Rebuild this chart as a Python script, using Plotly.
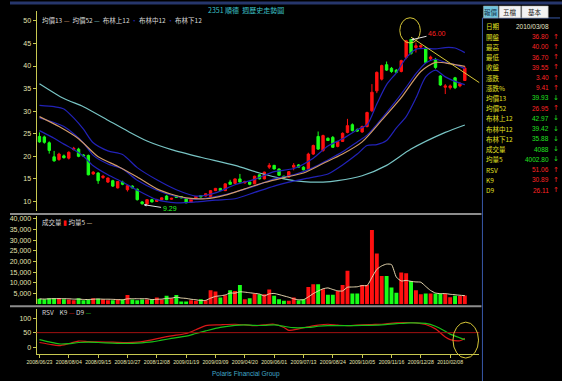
import plotly.graph_objects as go
import pandas as pd

# ---------------- data ----------------
TICK_BARS = [0, 6, 12, 18, 24, 30, 36, 42, 48, 54, 60, 66, 72, 78, 84]
TICK_LABELS = ["2008/06/23", "2008/08/04", "2008/09/15", "2008/10/27", "2008/12/08",
               "2009/01/19", "2009/03/09", "2009/04/20", "2009/06/01", "2009/07/13",
               "2009/08/24", "2009/10/05", "2009/11/16", "2009/12/28", "2010/02/08"]

OPEN = [24.4, 24.3, 23.0, 19.9, 19.3, 20.1, 19.6, 21.5, 21.6, 20.3,
        20.2, 16.1, 16.3, 15.3, 14.3, 14.6, 13.0, 14.3, 12.6, 13.4,
        12.7, 9.9, 9.4, 10.4, 10.0, 10.4, 11.2, 10.5, 11.2, 11.1,
        10.6, 9.8, 10.8, 11.3, 11.2, 11.1, 12.4, 12.9, 12.4, 14.3,
        14.0, 15.0, 14.1, 14.3, 13.9, 15.9, 15.0, 17.6, 18.0, 17.2,
        15.6, 15.4, 17.6, 18.1, 17.6, 17.2, 20.5, 24.4, 21.3, 24.0,
        24.2, 22.2, 23.3, 25.3, 27.0, 25.9, 25.4, 26.6, 30.1, 34.5,
        37.1, 40.3, 39.5, 39.1, 38.8, 41.9, 45.9, 44.1, 44.2, 44.0,
        41.6, 41.5, 37.8, 35.3, 35.2, 37.4, 35.6, 36.8]
HIGH = [25.3, 24.6, 23.3, 21.2, 20.8, 20.4, 21.1, 22.1, 21.9, 20.5,
        20.4, 16.7, 16.5, 15.9, 15.3, 14.8, 14.5, 14.6, 13.7, 13.6,
        12.9, 10.1, 10.5, 10.6, 10.6, 10.9, 11.4, 10.8, 11.3, 11.2,
        10.7, 10.6, 11.2, 11.4, 11.8, 12.5, 13.0, 13.0, 14.0, 14.8,
        15.1, 16.1, 14.6, 14.4, 15.7, 16.0, 16.6, 18.5, 18.1, 17.3,
        15.7, 16.7, 18.5, 18.3, 17.8, 20.8, 22.6, 25.5, 24.8, 24.2,
        24.5, 23.4, 25.3, 28.3, 27.3, 26.2, 26.8, 29.9, 36.0, 38.8,
        40.3, 41.0, 39.8, 39.3, 41.4, 45.8, 46.0, 45.2, 44.8, 44.3,
        42.3, 41.8, 38.0, 36.0, 35.9, 37.6, 36.4, 40.0]
LOW = [23.0, 22.8, 20.6, 18.8, 19.0, 19.5, 19.3, 21.3, 19.8, 19.9,
       15.8, 15.9, 13.9, 15.0, 14.1, 13.2, 12.9, 13.6, 12.2, 12.9,
       10.2, 9.29, 9.3, 9.8, 9.9, 10.3, 10.3, 10.4, 10.8, 10.7,
       9.6, 9.7, 10.7, 10.9, 11.1, 11.0, 12.3, 12.3, 12.3, 13.7,
       13.9, 14.2, 14.0, 13.6, 13.8, 14.9, 14.9, 17.2, 17.1, 15.7,
       15.0, 15.3, 16.9, 17.5, 16.9, 17.0, 20.3, 21.4, 21.0, 23.4,
       21.9, 22.0, 23.2, 25.1, 25.5, 25.4, 25.2, 26.4, 29.8, 34.0,
       36.8, 38.9, 38.5, 38.4, 38.6, 41.5, 42.5, 43.0, 43.8, 40.6,
       41.2, 39.4, 35.6, 33.8, 34.8, 34.9, 35.3, 36.7]
CLOSE = [23.2, 23.1, 21.3, 19.0, 20.5, 19.7, 20.9, 21.8, 20.0, 20.1,
         15.9, 16.5, 14.6, 15.6, 15.2, 13.4, 14.4, 13.8, 13.5, 13.0,
         10.4, 9.5, 10.4, 9.9, 10.4, 10.8, 10.4, 10.7, 10.9, 10.8,
         9.7, 10.5, 11.1, 11.0, 11.7, 12.4, 12.9, 12.4, 13.9, 13.8,
         15.0, 14.3, 14.4, 13.8, 15.6, 15.0, 16.5, 18.0, 17.2, 15.8,
         15.2, 16.6, 18.0, 17.6, 17.0, 20.5, 22.4, 21.6, 24.6, 23.5,
         22.0, 23.3, 25.1, 26.8, 25.7, 25.6, 26.6, 29.7, 34.2, 38.6,
         40.1, 39.1, 38.8, 38.6, 41.2, 45.6, 42.8, 44.5, 44.5, 40.8,
         42.0, 39.7, 35.8, 35.6, 35.6, 35.2, 36.15, 39.55]
VOLUME = [2500, 2300, 2800, 2800, 2700, 2300, 2200, 1900, 2800, 1900,
          2200, 2800, 2600, 2200, 1900, 1900, 2200, 2200, 4300, 2200,
          1900, 2200, 2200, 2200, 3100, 2200, 3900, 2800, 4300, 1300,
          1300, 1900, 1600, 2300, 1900, 6500, 5900, 3100, 4200, 6500,
          6200, 9000, 2300, 2800, 5000, 4700, 4700, 6900, 3900, 2300,
          1600, 1600, 3100, 1900, 2300, 8100, 9300, 9300, 7000, 4400,
          4400, 6200, 9000, 15600, 5000, 5000, 9000, 9000, 34700, 23700,
          13200, 13200, 7800, 5400, 14800, 14500, 10900, 6500, 4700, 5000,
          5000, 5000, 5000, 4900, 3300, 3900, 3826, 4088]

MA13_X = [0, 4, 8, 12, 16, 20, 24, 27, 30, 34, 38, 42, 46, 50, 54, 58, 62, 66, 70, 74, 78, 81, 84, 87]
MA13_V = [28.8, 26.6, 23.9, 19.9, 17.8, 15.4, 12.8, 11.6, 10.8, 10.6, 11.4, 12.8,
          14.2, 15.3, 16.3, 18.4, 20.5, 23.2, 28.0, 33.0, 38.8, 40.8, 40.5, 39.93]
MA52_X = [0, 5, 9, 14, 18, 22, 27, 33, 40, 45, 50, 54, 58, 61, 66, 71, 76, 83, 87]
MA52_V = [36.1, 32.8, 31.0, 28.0, 25.6, 23.4, 21.5, 19.8, 18.0, 16.3, 15.0, 14.4,
          14.3, 14.6, 15.7, 18.0, 21.6, 25.3, 26.95]
BB_X = [0, 3, 5, 7, 9, 11, 14, 17, 20, 24, 28, 32, 36, 40, 44, 48, 52, 56, 59, 62,
        65, 67, 69, 71, 73, 75, 77, 79, 81, 83, 85, 87]
BBU_V = [31.3, 31.0, 30.5, 28.5, 26.0, 23.0, 21.2, 20.4, 17.5, 14.8, 12.6, 11.2,
         11.9, 13.7, 14.9, 16.6, 17.3, 19.6, 22.3, 23.9, 25.9, 27.0, 31.6, 35.9,
         38.5, 41.8, 43.7, 43.9, 43.8, 44.1, 44.0, 42.97]
BBM_V = [28.5, 27.5, 26.6, 25.0, 23.0, 20.2, 18.3, 17.2, 14.7, 12.5, 11.1, 10.5,
         11.1, 12.1, 13.4, 15.0, 15.9, 17.5, 19.2, 21.0, 23.2, 24.7, 27.1, 29.7,
         32.4, 35.3, 38.3, 40.7, 41.5, 40.8, 40.3, 39.42]
BBL_V = [25.7, 24.0, 22.7, 21.5, 20.0, 17.9, 15.9, 14.3, 12.5, 10.4, 9.7, 9.9,
         10.3, 10.6, 12.0, 13.4, 14.5, 15.4, 16.1, 18.1, 20.5, 22.4, 22.6, 23.5,
         26.3, 28.8, 32.9, 37.6, 39.1, 37.6, 36.6, 35.88]

K_X = [0, 2, 4, 6, 8, 10, 12, 15, 18, 20, 23, 25, 27, 30, 32, 34, 37, 40, 42, 44,
       46, 48, 50, 51, 53, 55, 57, 59, 61, 63, 66, 68, 70, 73, 77, 79, 81, 83, 84, 86, 87]
K_V = [16, 10, 5, 12, 21, 19, 18, 17, 16, 17, 25, 33, 39, 47, 60, 74, 77, 79, 77, 74,
       77, 79, 68, 58, 63, 70, 76, 79, 76, 74, 77, 78, 79, 84, 84, 78, 63, 35, 26, 22, 30.89]
D_X = [0, 2, 4, 6, 8, 10, 12, 15, 18, 20, 23, 25, 27, 30, 32, 34, 37, 40, 42, 44,
       46, 48, 50, 52, 55, 57, 59, 62, 66, 70, 73, 76, 79, 81, 83, 84, 86, 87]
D_V = [26, 18, 11, 12, 16, 17, 16, 14, 13, 14, 18, 24, 30, 38, 47, 56, 68, 75, 77, 75,
       75, 77, 72, 67, 68, 72, 74, 74, 75, 77, 81, 84, 82, 72, 55, 45, 32, 26.11]

TABLE_LABELS = ["日期", "開盤", "最高", "最低", "收盤", "漲跌", "漲跌%", "均價13", "均價52",
                "布林上12", "布林中12", "布林下12", "成交量", "均量5", "RSV", "K9", "D9"]
TABLE_VALUES = ["2010/03/08", "36.80", "40.00", "36.70", "39.55", "3.40", "9.41", "39.93",
                "26.95", "42.97", "39.42", "35.88", "4088", "4002.80", "51.06", "30.89", "26.11"]
TABLE_DIRS = ["", "up", "up", "up", "up", "up", "up", "down", "up",
              "down", "down", "down", "down", "down", "up", "up", "up"]
TABS = ["報價", "五檔", "基本"]

# ---------------- styling ----------------
W, H = 562, 381
RED = "#ff1010"
GREEN = "#18ff18"
AXIS_COL = "#c8c850"
NARROW = "Liberation Sans Narrow, Liberation Sans, Arial"
TICK_FONT = dict(family=NARROW, size=7, color="#e4e4b0")
CJK = "Noto Sans CJK TC"


def px(x):
    return x / W


def py(y):
    return 1 - y / H


n = len(CLOSE)
X = list(range(n))
XR = [-0.6, 90.0]
XDOM = [px(27), px(478)]

fig = go.Figure()

fig.add_trace(go.Candlestick(
    x=X, open=OPEN, high=HIGH, low=LOW, close=CLOSE,
    increasing=dict(line=dict(color=RED, width=1), fillcolor=RED),
    decreasing=dict(line=dict(color=GREEN, width=1), fillcolor=GREEN),
    whiskerwidth=0, xaxis="x", yaxis="y", showlegend=False, hoverinfo="skip"))

line_specs = [
    (MA52_X, MA52_V, "#78c4c4"),
    (BB_X, BBU_V, "#2222b8"),
    (BB_X, BBM_V, "#2222b8"),
    (BB_X, BBL_V, "#2222b8"),
    (MA13_X, MA13_V, "#d09a68"),
]
for xs, ys, col in line_specs:
    fig.add_trace(go.Scatter(x=xs, y=ys, mode="lines", xaxis="x", yaxis="y",
                             line=dict(color=col, width=1.2, shape="spline", smoothing=0.7),
                             showlegend=False, hoverinfo="skip"))

vol_colors = [RED if c >= o else GREEN for o, c in zip(OPEN, CLOSE)]
fig.add_trace(go.Bar(x=X, y=VOLUME, marker=dict(color=vol_colors, line=dict(width=0)),
                     xaxis="x2", yaxis="y2", showlegend=False, hoverinfo="skip"))
vol_ma = pd.Series(VOLUME).rolling(5, min_periods=1).mean()
fig.add_trace(go.Scatter(x=X, y=vol_ma, mode="lines", xaxis="x2", yaxis="y2",
                         line=dict(color="#e8d8b0", width=1, shape="spline", smoothing=0.6),
                         showlegend=False, hoverinfo="skip"))

fig.add_trace(go.Scatter(x=K_X, y=K_V, mode="lines", xaxis="x3", yaxis="y3",
                         line=dict(color="#d81818", width=1.2, shape="spline", smoothing=0.8),
                         showlegend=False, hoverinfo="skip"))
fig.add_trace(go.Scatter(x=D_X, y=D_V, mode="lines", xaxis="x3", yaxis="y3",
                         line=dict(color="#18c018", width=1.2, shape="spline", smoothing=0.8),
                         showlegend=False, hoverinfo="skip"))

common_x = dict(domain=XDOM, range=XR, showgrid=False, zeroline=False, fixedrange=True)
common_y = dict(showgrid=False, zeroline=False, showline=True, linecolor=AXIS_COL, linewidth=1,
                ticks="outside", ticklen=3, tickcolor=AXIS_COL, tickfont=TICK_FONT, side="left")

fig.update_layout(
    width=W, height=H,
    margin=dict(l=0, r=0, t=0, b=0),
    paper_bgcolor="black", plot_bgcolor="black",
    bargap=0.2,
    xaxis=dict(**common_x, anchor="y", showticklabels=False, rangeslider=dict(visible=False)),
    xaxis2=dict(**common_x, anchor="y2", showticklabels=False, matches="x"),
    xaxis3=dict(**common_x, anchor="y3", matches="x", tickvals=TICK_BARS, ticktext=TICK_LABELS,
                tickangle=0, ticks="outside", ticklen=3, tickcolor=AXIS_COL, showline=True,
                linecolor=AXIS_COL, tickfont=dict(family=NARROW, size=5.2, color="#e4e4b0")),
    yaxis=dict(**common_y, domain=[py(211), py(10)], range=[7.79, 52.2], anchor="x",
               tickvals=[10, 15, 20, 25, 30, 35, 40, 45, 50]),
    yaxis2=dict(**common_y, domain=[py(304), py(216)], range=[0, 41060], anchor="x2",
                tickvals=[5000, 10000, 15000, 20000, 25000, 30000, 35000, 40000], tickformat=",d"),
    yaxis3=dict(**common_y, domain=[py(354), py(309)], range=[-24, 131], anchor="x3",
                tickvals=[0, 50, 100]),
)

shapes = []
# top blue strip
shapes.append(dict(type="line", xref="paper", yref="paper", x0=0, x1=1, y0=py(2), y1=py(2),
                   line=dict(color="#26366c", width=3)))
# panel separators
for yy in (213.5, 306):
    shapes.append(dict(type="line", xref="paper", yref="paper", x0=0, x1=px(480), y0=py(yy), y1=py(yy),
                       line=dict(color="#8c8c8c", width=2)))
# right panel border
shapes.append(dict(type="line", xref="paper", yref="paper", x0=px(481), x1=px(481), y0=py(17), y1=0,
                   line=dict(color="#3858a8", width=1)))
shapes.append(dict(type="line", xref="paper", yref="paper", x0=px(481), x1=px(560), y0=py(17), y1=py(17),
                   line=dict(color="#3858a8", width=1)))
# KD 50 reference line
shapes.append(dict(type="line", xref="paper", yref="y3", x0=XDOM[0], x1=XDOM[1], y0=50, y1=50,
                   line=dict(color="#a01010", width=1)))
# hand-drawn annotations (circle round the peak, trend line, circle round the KD end)
peak_i = max(range(n), key=lambda i: HIGH[i])
low_i = min(range(n), key=lambda i: LOW[i])
shapes.append(dict(type="circle", xref="x", yref="y", x0=peak_i - 2.3, x1=peak_i + 1.9,
                   y0=HIGH[peak_i] - 0.9, y1=HIGH[peak_i] + 4.7,
                   line=dict(color="#d8c838", width=1)))
shapes.append(dict(type="line", xref="x", yref="y", x0=peak_i, x1=XR[1], y0=HIGH[peak_i] + 0.4,
                   y1=HIGH[peak_i] - 9.7, line=dict(color="#d8c838", width=1)))
shapes.append(dict(type="circle", xref="paper", yref="paper", x0=px(451), x1=px(477),
                   y0=py(358), y1=py(322), line=dict(color="#d8c838", width=1)))
# tabs
tab_boxes = [(482, 497), (498, 520), (521, 548)]
tab_fill = ["#70c4dc", "#f2f2f2", "#f2f2f2"]
for (a, b), f in zip(tab_boxes, tab_fill):
    shapes.append(dict(type="rect", xref="paper", yref="paper", x0=px(a), x1=px(b), y0=py(17), y1=py(5),
                       fillcolor=f, line=dict(color="#a0a0a0", width=0.5)))
fig.update_layout(shapes=shapes)

ann = []


def text(x, y, s, color, size=7, anchor="left", family=CJK):
    ann.append(dict(xref="paper", yref="paper", x=px(x), y=py(y), text=s, showarrow=False,
                    xanchor=anchor, yanchor="middle", font=dict(family=family, size=size, color=color)))


text(240, 9, "2351 順德  週歷史走勢圖", "#3cc0c8", 7, "center")
text(31, 19, "均價13 <span style='color:#d09a68'>—</span>  均價52 <span style='color:#78c4c4'>—</span>  "
             "布林上12 <span style='color:#2222b8'>·</span> 布林中12 <span style='color:#2222b8'>·</span> 布林下12",
     "#d8d8d8", 6.5)
text(31, 222, "成交量 <span style='color:#ff1010'>▮</span> 均量5 <span style='color:#e8d8b0'>—</span>",
     "#d8d8d8", 6.5)
text(31, 312, "RSV    K9 <span style='color:#d81818'>—</span> D9 <span style='color:#18c018'>—</span>",
     "#d8d8d8", 6.5)
text(240, 374, "Polaris Financial Group", "#40a8c8", 6.5, "center", NARROW)

# max / min markers
ann.append(dict(xref="x", yref="y", x=peak_i, y=HIGH[peak_i] - 0.2, text=f"{HIGH[peak_i]:.2f}",
                showarrow=True, ax=26, ay=-6, arrowhead=2, arrowsize=0.6, arrowwidth=1,
                arrowcolor="#e0e0e0", font=dict(family=NARROW, size=7, color="#ff2020")))
ann.append(dict(xref="x", yref="y", x=low_i + 0.3, y=LOW[low_i], text=f"{LOW[low_i]:.2f}",
                showarrow=True, ax=26, ay=4, arrowhead=2, arrowsize=0.6, arrowwidth=1,
                arrowcolor="#e0e0e0", font=dict(family=NARROW, size=7, color="#20ff20")))

# tabs text
for (a, b), t, c in zip(tab_boxes, TABS, ["#10304a", "#202020", "#202020"]):
    text((a + b) / 2, 11, t, c, 6.5, "center")

# quote table
for i, (lab, val, d) in enumerate(zip(TABLE_LABELS, TABLE_VALUES, TABLE_DIRS)):
    yy = 25.5 + 10.25 * i
    text(483, yy, lab, "#e0e020", 6.5, "left")
    if d == "up":
        col, arr = "#ff2424", "↑"
    elif d == "down":
        col, arr = "#20e020", "↓"
    else:
        col, arr = "#e8e8c8", ""
    text(551, yy, val, col, 6.5, "right", NARROW)
    if arr:
        text(556, yy, arr, col, 7, "center", "DejaVu Sans")

fig.update_layout(annotations=ann)
fig.write_html("out.html", config={"displayModeBar": False},
               post_script="document.body.style.margin='0';document.body.style.overflow='hidden';")
